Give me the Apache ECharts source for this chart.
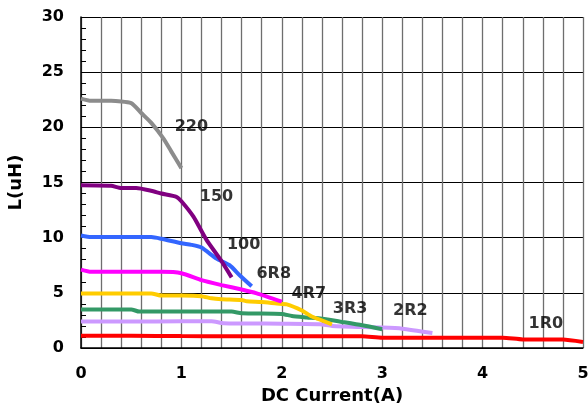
<!DOCTYPE html>
<html>
<head>
<meta charset="utf-8">
<script src="https://cdn.jsdelivr.net/npm/echarts@6/dist/echarts.min.js"></script>
<style>html,body{margin:0;padding:0;background:#fff}#c{width:588px;height:408px}</style>
</head>
<body>
<div id="c"></div>
<script>
var seriesNames = ['220', '150', '100', '6R8', '4R7', '3R3', '2R2', '1R0'];
var seriesColors = ['#8c8c8c', '#800080', '#3366ff', '#ff00ff', '#ffcc00', '#339966', '#cc99ff', '#ff0000'];

var d220 = [[0,22.6],[0.1,22.4],[0.3,22.4],[0.5,22.2],[0.6,21.3],[0.7,20.4],[0.82,19.0],[0.9,17.8],[1.0,16.3]];
var d150 = [[0,14.75],[0.3,14.7],[0.4,14.5],[0.55,14.5],[0.7,14.25],[0.8,14.0],[0.95,13.7],[1.0,13.3],[1.12,11.9],[1.25,9.8],[1.39,8.0],[1.5,6.4]];
var d100 = [[0,10.2],[0.1,10.05],[0.7,10.05],[0.8,9.9],[1.0,9.5],[1.1,9.35],[1.2,9.1],[1.35,8.1],[1.48,7.5],[1.58,6.6],[1.7,5.6]];
var d6R8 = [[0,7.1],[0.1,6.9],[0.8,6.9],[1.0,6.78],[1.2,6.15],[1.4,5.7],[1.6,5.3],[1.75,4.95],[2.0,4.2]];
var d4R7 = [[0,4.95],[0.7,4.95],[0.8,4.75],[1.0,4.75],[1.2,4.7],[1.3,4.5],[1.4,4.42],[1.6,4.35],[1.65,4.24],[1.8,4.17],[1.95,4.03],[2.05,3.95],[2.2,3.4],[2.3,2.85],[2.5,2.15]];
var d3R3 = [[0,3.5],[0.5,3.5],[0.58,3.3],[1.0,3.3],[1.5,3.3],[1.6,3.15],[2.0,3.08],[2.1,2.9],[2.25,2.77],[2.4,2.65],[2.6,2.36],[2.8,2.06],[3.0,1.7]];
var d2R2 = [[0,2.4],[0.5,2.4],[1.0,2.42],[1.3,2.42],[1.42,2.25],[2.0,2.2],[2.38,2.15],[2.5,2.0],[3.0,1.85],[3.2,1.75],[3.5,1.36]];
var d1R0 = [[0,1.1],[0.5,1.1],[1.0,1.08],[1.5,1.07],[2.0,1.06],[2.5,1.06],[2.8,1.06],[3.0,0.94],[3.5,0.94],[4.2,0.94],[4.4,0.78],[4.8,0.77],[5.0,0.55]];
var seriesData = [d220, d150, d100, d6R8, d4R7, d3R3, d2R2, d1R0];

// label anchor positions in data units [x, y]
var labelPos = [[1.10,20.05],[1.35,13.70],[1.62,9.38],[1.92,6.75],[2.27,4.94],[2.68,3.51],[3.28,3.33],[4.63,2.21]];

var FONT = 'DejaVu Sans';
var series = seriesNames.map(function (n, i) {
  return {
    name: n, type: 'line', data: seriesData[i], smooth: 0.2, showSymbol: false,
    lineStyle: { color: seriesColors[i], width: 4 }, itemStyle: { color: seriesColors[i] },
    z: 10 - i, animation: false
  };
});
series.push({
  type: 'scatter', symbolSize: 0, animation: false, z: 20,
  data: labelPos.map(function (p, i) { return { value: p, name: seriesNames[i] }; }),
  label: { show: true, position: 'inside', formatter: '{b}', color: '#000', fontFamily: FONT, fontWeight: 'bold', fontSize: 16 }
});

var chart = echarts.init(document.getElementById('c'), null, { renderer: 'canvas' });
chart.setOption({
  backgroundColor: '#fff',
  animation: false,
  grid: { left: 81, top: 17, right: 5, bottom: 60, containLabel: false, outerBoundsMode: 'none' },
  xAxis: {
    type: 'value', min: 0, max: 5, interval: 1,
    name: 'DC Current(A)', nameLocation: 'middle', nameGap: 38,
    nameTextStyle: { fontFamily: FONT, fontWeight: 'bold', fontSize: 18, color: '#000' },
    axisLine: { show: true, lineStyle: { color: '#000', width: 1.5 } },
    axisTick: { show: false },
    axisLabel: { fontFamily: FONT, fontWeight: 'bold', fontSize: 16, color: '#000', margin: 18 },
    splitLine: { show: true, lineStyle: { color: '#6e6e6e', width: 1.3 } },
    minorTick: { show: false, splitNumber: 5 },
    minorSplitLine: { show: true, lineStyle: { color: '#6e6e6e', width: 1.3 } }
  },
  yAxis: {
    type: 'value', min: 0, max: 30, interval: 5,
    name: 'L(uH)', nameLocation: 'middle', nameGap: 56, nameRotate: 90,
    nameTextStyle: { fontFamily: FONT, fontWeight: 'bold', fontSize: 18, color: '#000' },
    axisLine: { show: true, lineStyle: { color: '#000', width: 1.5 } },
    axisTick: { show: true, inside: true, length: 5, lineStyle: { color: '#000' } },
    minorTick: { show: true, splitNumber: 5, length: 5, lineStyle: { color: '#000' } },
    axisLabel: { fontFamily: FONT, fontWeight: 'bold', fontSize: 16, color: '#000', margin: 17 },
    splitLine: { show: true, lineStyle: { color: '#000', width: 1 } }
  },
  series: series
});
</script>
</body>
</html>
